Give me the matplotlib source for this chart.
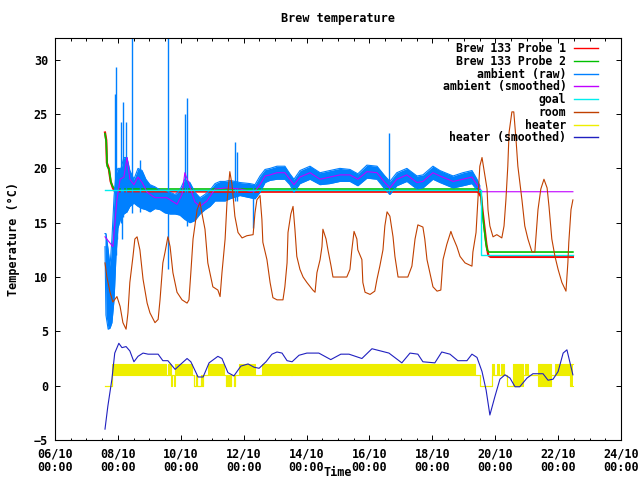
import numpy as np
import pandas as pd
import matplotlib
matplotlib.use("Agg")
import matplotlib.pyplot as plt
import matplotlib.dates as mdates
from matplotlib.lines import Line2D

# times are given as day of October (fractional)
BASE = pd.Timestamp("2013-09-30")

probe1_day = [7.59, 7.63, 7.65, 7.71, 7.77, 7.84, 7.90, 12.0, 19.45, 19.55, 19.60, 19.66, 19.72, 19.78, 19.85, 22.47]
probe1_val = [23.3, 22.6, 20.5, 20.0, 18.8, 18.2, 17.9, 17.85, 17.85, 17.4, 16.0, 14.5, 13.0, 12.0, 11.85, 11.85]

probe2_day = [7.59, 7.63, 7.66, 7.72, 7.78, 7.84, 7.92, 19.47, 19.55, 19.58, 19.64, 19.70, 19.74, 19.80, 22.47]
probe2_val = [23.2, 22.4, 20.2, 19.9, 18.7, 18.3, 18.1, 18.1, 17.8, 16.2, 14.7, 13.2, 12.5, 12.3, 12.3]

raw_day = [7.59, 7.62, 7.69, 7.75, 7.81, 7.88, 7.94, 8.00, 8.10, 8.19, 8.29, 8.38, 8.51, 8.64, 8.77,
           8.89, 9.02, 9.18, 9.34, 9.50, 9.66, 9.82, 9.97, 10.13, 10.29, 10.45, 10.61, 10.77, 10.93,
           11.09, 11.25, 11.41, 11.56, 11.88, 12.20, 12.36, 12.52, 12.68, 12.84, 13.06, 13.31, 13.47,
           13.60, 13.79, 14.11, 14.43, 14.74, 15.06, 15.38, 15.63, 15.92, 16.24, 16.49, 16.65, 16.87,
           17.19, 17.51, 17.70, 18.02, 18.24, 18.66, 18.97, 19.26, 19.42, 19.51]
raw_lo = [12.8, 6.5, 5.2, 5.3, 5.8, 8.0, 12.0, 14.5, 15.5, 15.8, 16.0, 16.5, 16.8, 16.5, 16.3,
          16.2, 16.0, 16.3, 16.2, 15.9, 15.8, 15.8, 15.7, 15.3, 15.0, 15.2, 15.8, 16.2, 16.5,
          17.0, 17.0, 17.0, 17.2, 17.5, 17.3, 17.2, 17.8, 18.7, 18.9, 19.0, 19.0, 18.5,
          17.8, 18.6, 19.0, 18.5, 18.6, 18.8, 18.8, 18.4, 19.1, 19.0, 18.1, 17.6, 18.4,
          18.8, 18.1, 18.2, 19.0, 18.7, 18.2, 18.4, 18.6, 18.0, 17.8]
raw_hi = [14.0, 14.0, 12.5, 11.0, 13.5, 17.5, 19.5, 20.0, 20.0, 21.0, 21.0, 19.8, 19.0, 20.0, 19.8,
          19.0, 18.5, 18.3, 18.0, 18.0, 17.8, 17.6, 18.0, 19.0, 18.7, 17.8, 17.3, 17.6, 18.0,
          18.6, 18.8, 18.8, 18.9, 18.7, 18.6, 18.5, 19.3, 19.9, 20.0, 20.2, 20.2, 19.5,
          19.0, 19.8, 20.2, 19.6, 19.8, 20.0, 19.9, 19.5, 20.3, 20.2, 19.3, 18.8, 19.6,
          20.0, 19.3, 19.4, 20.2, 19.8, 19.3, 19.6, 19.8, 19.0, 18.4]
# single readings far off the band
spike_day = [7.91, 7.94, 7.97, 8.10, 8.13, 8.16, 8.26, 8.45, 8.70, 9.59, 10.13, 10.20, 11.72, 11.78, 12.30, 16.62]
spike_lo = [14.0, 12.0, 13.5, 15.0, 13.5, 15.5, 16.0, 15.9, 16.0, 10.7, 15.5, 14.7, 17.0, 17.0, 14.5, 17.6]
spike_hi = [26.8, 29.3, 19.0, 24.3, 20.0, 26.1, 24.3, 33.0, 20.8, 33.0, 25.0, 26.5, 22.4, 21.5, 18.5, 23.3]

smooth_day = [7.59, 7.84, 7.97, 8.07, 8.19, 8.29, 8.38, 8.51, 8.64, 8.77, 8.93, 9.18, 9.56, 9.88, 10.04,
              10.13, 10.23, 10.29, 10.45, 10.61, 10.83, 11.09, 11.47, 11.88, 12.20, 12.36, 12.52, 12.68,
              12.84, 13.06, 13.31, 13.47, 13.60, 13.79, 14.11, 14.43, 14.74, 15.06, 15.38, 15.63, 15.92,
              16.24, 16.49, 16.65, 16.87, 17.19, 17.51, 17.70, 18.02, 18.24, 18.66, 18.97, 19.26, 19.42,
              19.58, 22.47]
smooth_val = [13.7, 12.8, 17.1, 19.0, 19.2, 21.0, 19.0, 18.5, 19.2, 18.7, 17.8, 17.3, 17.3, 16.7, 17.6,
              19.6, 18.8, 18.3, 16.9, 16.5, 17.0, 18.1, 18.2, 18.1, 17.9, 17.9, 18.5, 19.3,
              19.4, 19.6, 19.6, 19.0, 18.5, 19.2, 19.6, 19.0, 19.2, 19.4, 19.4, 19.0, 19.7,
              19.6, 18.7, 18.2, 19.0, 19.4, 18.7, 18.8, 19.6, 19.3, 18.8, 19.0, 19.2, 18.5,
              17.85, 17.85]

goal_day = [7.59, 19.55, 19.55, 22.47]
goal_val = [18.0, 18.0, 12.05, 12.05]

room_day = [7.59, 7.65, 7.75, 7.84, 7.97, 8.07, 8.16, 8.26, 8.32, 8.38, 8.48, 8.54, 8.61, 8.70, 8.80,
            8.93, 9.02, 9.18, 9.28, 9.34, 9.43, 9.50, 9.59, 9.66, 9.75, 9.88, 10.04, 10.20, 10.26,
            10.32, 10.39, 10.52, 10.61, 10.67, 10.77, 10.86, 11.02, 11.18, 11.25, 11.31, 11.41, 11.47,
            11.56, 11.63, 11.72, 11.82, 11.95, 12.10, 12.30, 12.36, 12.42, 12.52, 12.58, 12.61, 12.74,
            12.84, 12.93, 13.06, 13.25, 13.31, 13.38, 13.41, 13.50, 13.57, 13.63, 13.69, 13.79, 13.89,
            14.01, 14.20, 14.27, 14.33, 14.43, 14.49, 14.52, 14.62, 14.68, 14.78, 14.84, 15.06, 15.28,
            15.38, 15.44, 15.51, 15.60, 15.63, 15.76, 15.79, 15.86, 16.02, 16.17, 16.24, 16.33, 16.43,
            16.49, 16.56, 16.65, 16.75, 16.81, 16.91, 17.07, 17.22, 17.35, 17.45, 17.54, 17.70, 17.76,
            17.83, 17.92, 18.02, 18.15, 18.27, 18.34, 18.46, 18.59, 18.65, 18.78, 18.88, 19.04, 19.26,
            19.29, 19.39, 19.45, 19.51, 19.58, 19.64, 19.74, 19.77, 19.83, 19.93, 20.05, 20.21, 20.28,
            20.34, 20.40, 20.44, 20.53, 20.59, 20.66, 20.72, 20.85, 20.94, 21.04, 21.17, 21.26, 21.36,
            21.45, 21.55, 21.65, 21.71, 21.80, 21.90, 22.00, 22.12, 22.25, 22.31, 22.34, 22.41, 22.47]
room_val = [11.3, 10.0, 8.6, 7.7, 8.2, 7.3, 5.8, 5.2, 6.7, 9.5, 11.9, 13.5, 13.7, 12.5, 9.8,
            7.6, 6.7, 5.8, 6.1, 7.9, 11.3, 12.3, 13.7, 12.8, 10.4, 8.6, 7.9, 7.6, 7.9,
            10.4, 13.5, 16.2, 16.9, 15.9, 14.4, 11.3, 9.1, 8.8, 8.2, 10.4, 13.5, 16.9,
            19.7, 18.5, 15.6, 14.1, 13.6, 13.8, 13.9, 15.9, 17.1, 17.5, 15.3, 13.2, 11.6,
            9.5, 8.1, 7.9, 7.9, 9.1, 11.3, 14.1, 15.8, 16.5, 14.4, 11.9, 10.7, 10.0,
            9.5, 8.8, 8.6, 10.4, 11.6, 12.8, 14.4, 13.5, 12.5, 11.0, 10.0, 10.0, 10.0,
            10.7, 12.5, 14.2, 13.5, 12.5, 11.6, 9.5, 8.6, 8.4, 8.7, 9.8, 11.0, 12.5,
            14.7, 16.0, 15.6, 13.7, 11.9, 10.0, 10.0, 10.0, 11.0, 13.5, 14.8, 14.6, 13.5,
            11.6, 10.4, 9.1, 8.7, 8.8, 11.6, 13.0, 14.2, 13.7, 12.8, 11.9, 11.3, 11.0,
            12.3, 14.1, 17.1, 20.2, 21.0, 19.9, 18.1, 16.2, 14.7, 13.7, 13.9, 13.6, 14.7,
            17.1, 20.2, 23.3, 25.2, 25.2, 22.7, 20.2, 17.1, 14.7, 13.5, 12.3, 12.3, 16.2,
            18.1, 19.0, 18.2, 16.5, 13.5, 11.9, 10.7, 9.5, 8.7, 11.3, 13.2, 16.2, 17.1]

heater_day = [7.59, 7.81, 9.52, 9.60, 9.68, 9.72, 9.78, 9.82, 10.35, 10.43, 10.48, 10.52, 10.63, 10.66,
              10.72, 10.87, 11.38, 11.45, 11.48, 11.51, 11.54, 11.58, 11.61, 11.68, 11.71, 11.85, 12.36,
              12.59, 13.49, 13.55, 16.56, 16.59, 19.35, 19.51, 19.90, 19.97, 20.06, 20.12, 20.17, 20.28,
              20.37, 20.56, 20.89, 20.94, 21.04, 21.36, 21.77, 21.90, 22.38, 22.47]
heater_lo = [0, 1, 1, 1, 0, 1, 0, 1, 1, 0, 1, 0, 1, 0, 1, 1, 1, 0, 1, 0, 1, 0, 1, 0, 1,
             1, 1, 1, 1, 1, 1, 1, 1, 0, 1, 1, 1, 1, 1, 1, 0, 0, 1, 1, 1, 0, 1, 1, 0, 0]
heater_hi = [0, 2, 1, 2, 1, 1, 1, 2, 1, 0, 1, 0, 1, 0, 1, 2, 1, 0, 1, 0, 1, 0, 1, 0, 1,
             2, 1, 2, 1, 2, 1, 2, 1, 0, 2, 1, 2, 1, 2, 1, 0, 2, 1, 2, 1, 2, 1, 2, 2, 2]

hsmooth_day = [7.59, 7.68, 7.81, 7.90, 8.03, 8.13, 8.26, 8.38, 8.51, 8.64, 8.80, 8.96, 9.28, 9.43, 9.59,
               9.82, 9.97, 10.20, 10.32, 10.55, 10.71, 10.90, 11.18, 11.31, 11.50, 11.69, 11.91, 12.14,
               12.33, 12.49, 12.71, 12.90, 13.06, 13.22, 13.38, 13.54, 13.76, 14.01, 14.39, 14.77, 15.09,
               15.35, 15.76, 16.08, 16.62, 17.03, 17.29, 17.54, 17.70, 18.08, 18.30, 18.56, 18.81, 19.10,
               19.26, 19.42, 19.58, 19.71, 19.83, 19.99, 20.15, 20.31, 20.47, 20.63, 20.78, 21.01, 21.20,
               21.52, 21.68, 21.84, 22.00, 22.16, 22.28, 22.47]
hsmooth_val = [-4.0, -1.9, 0.6, 3.0, 3.9, 3.5, 3.6, 3.2, 2.2, 2.7, 3.0, 2.9, 2.9, 2.3, 2.3,
               1.5, 1.9, 2.5, 2.2, 0.8, 0.8, 2.1, 2.7, 2.5, 1.2, 0.9, 1.8, 2.0,
               1.7, 1.6, 2.2, 2.9, 3.1, 3.0, 2.3, 2.2, 2.8, 3.0, 3.0, 2.4, 2.9,
               2.9, 2.5, 3.4, 3.0, 2.1, 3.0, 2.9, 2.2, 2.1, 3.1, 2.9, 2.3, 2.3,
               2.9, 2.6, 1.3, -0.4, -2.7, -1.0, 0.6, 1.0, 0.7, -0.1, -0.1, 0.7, 1.1,
               1.1, 0.5, 0.6, 1.3, 3.0, 3.3, 1.0]

labels = ['Brew 133 Probe 1', 'Brew 133 Probe 2', 'ambient (raw)', 'ambient (smoothed)',
          'goal', 'room', 'heater', 'heater (smoothed)']

SERIES_COLORS = ['#ff0000', '#00c000', '#0080ff', '#c000ff', '#00eeee', '#c04000', '#eeee00', '#2020c0']
FONT = dict(family='DejaVu Sans Mono', weight='bold', size=8.5)


def to_time(days):
    return (BASE + pd.to_timedelta(np.asarray(days, dtype=float), unit='D')).to_numpy()


def main():
    plt.rcParams['font.family'] = 'DejaVu Sans Mono'
    plt.rcParams['font.weight'] = 'bold'
    plt.rcParams['font.size'] = 8.5

    fig = plt.figure(figsize=(6.4, 4.8), dpi=100)
    ax = fig.add_axes([55 / 640, 40 / 480, 566 / 640, 402 / 480])

    lw = 0.8
    ax.plot(to_time(probe1_day), probe1_val, color=SERIES_COLORS[0], lw=1.6)
    ax.plot(to_time(probe2_day), probe2_val, color=SERIES_COLORS[1], lw=1.2)

    t_raw = to_time(raw_day)
    ax.fill_between(t_raw, raw_lo, raw_hi, color=SERIES_COLORS[2], lw=0)
    ax.plot(t_raw, raw_hi, color=SERIES_COLORS[2], lw=lw)
    ax.plot(t_raw, raw_lo, color=SERIES_COLORS[2], lw=lw)
    ax.vlines(to_time(spike_day), spike_lo, spike_hi, color=SERIES_COLORS[2], lw=1.0)

    ax.plot(to_time(smooth_day), smooth_val, color=SERIES_COLORS[3], lw=lw)
    ax.plot(to_time(goal_day), goal_val, color=SERIES_COLORS[4], lw=1.0)
    ax.plot(to_time(room_day), room_val, color=SERIES_COLORS[5], lw=lw)

    t_heat = to_time(heater_day)
    ax.fill_between(t_heat, heater_lo, heater_hi, step='post', color=SERIES_COLORS[6], lw=0)
    ax.step(t_heat, heater_lo, where='post', color=SERIES_COLORS[6], lw=lw)
    ax.step(t_heat, heater_hi, where='post', color=SERIES_COLORS[6], lw=lw)

    ax.plot(to_time(hsmooth_day), hsmooth_val, color=SERIES_COLORS[7], lw=lw)

    ax.set_xlim(to_time([6.0])[0], to_time([24.0])[0])
    ax.set_ylim(-5, 32)
    ax.set_yticks(range(-5, 31, 5))
    ax.xaxis.set_major_locator(mdates.DayLocator(interval=2))
    ax.xaxis.set_minor_locator(mdates.HourLocator(byhour=[0, 12]))
    ax.xaxis.set_major_formatter(mdates.DateFormatter('%d/%m\n%H:%M'))
    ax.tick_params(which='both', direction='in', top=True, right=True, width=0.7)
    ax.tick_params(which='major', length=3.5)
    ax.tick_params(which='minor', length=1.8)
    ax.tick_params(axis='x', pad=5.5)
    ax.tick_params(axis='y', pad=5)
    fig.canvas.draw()
    for label in ax.get_xticklabels():
        label.set_linespacing(1.0)
    for s in ax.spines.values():
        s.set_linewidth(0.8)

    ax.set_title('Brew temperature', pad=11.5, **FONT)
    ax.set_xlabel('Time', **FONT)
    ax.xaxis.set_label_coords(0.5, -0.064)
    ax.set_ylabel('Temperature (\u00b0C)', **FONT)
    ax.yaxis.set_label_coords(-0.062, 0.5)

    proxies = [Line2D([], [], color=c, lw=1.0) for c in SERIES_COLORS]
    ax.legend(proxies, labels, loc='upper right', frameon=False, markerfirst=False,
              bbox_to_anchor=((598 - 55) / 566, (440 - 42) / 402),
              handlelength=2.1, handletextpad=0.65, labelspacing=-0.02,
              borderaxespad=0, borderpad=0,
              prop=dict(family='DejaVu Sans Mono', weight='bold', size=8.3))

    fig.savefig('out.png', dpi=100)


if __name__ == '__main__':
    main()
